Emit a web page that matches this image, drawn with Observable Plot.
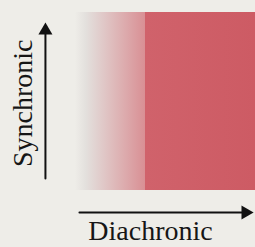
<!DOCTYPE html>
<html>
<head>
<meta charset="utf-8">
<script src="https://cdn.jsdelivr.net/npm/d3@7"></script>
<script src="https://cdn.jsdelivr.net/npm/@observablehq/plot@0.6"></script>
<style>
  html, body { margin: 0; padding: 0; background: #eeede8; overflow: hidden; }
</style>
</head>
<body>
<div id="chart"></div>
<script>
// Region of the diagram (abstract units)
const region = [{t0: 0, t1: 1, s0: 0, s1: 1}];
// Gradient of the region, left to right
const gradientOffsets = [0, 0.06, 0.39, 0.39, 1];
const gradientColors = ["#eeede8", "#e3e0dd", "#d98f94", "#d0626b", "#cd5b64"];
// Axis arrows
const axisNames = ["Synchronic", "Diachronic"];
const arrowX1 = [-0.167, 0.022];
const arrowY1 = [0.067, -0.124];
const arrowX2 = [-0.167, 0.989];
const arrowY2 = [0.944, -0.124];
// Axis labels
const labelX = [-0.29, 0.417];
const labelY = [0.49, -0.228];
const labelRotate = [-90, 0];

const arrows = axisNames.map((name, i) => ({name, x1: arrowX1[i], y1: arrowY1[i], x2: arrowX2[i], y2: arrowY2[i]}));
const labels = axisNames.map((name, i) => ({name, x: labelX[i], y: labelY[i], rotate: labelRotate[i]}));

const font = "Liberation Serif, Times New Roman, serif";

const plot = Plot.plot({
  width: 255,
  height: 247,
  marginLeft: 75,
  marginRight: 0,
  marginTop: 12,
  marginBottom: 57,
  x: {domain: [0, 1], axis: null},
  y: {domain: [0, 1], axis: null},
  style: {background: "#eeede8", overflow: "visible"},
  marks: [
    Plot.rect(region, {x1: "t0", x2: "t1", y1: "s0", y2: "s1", fill: "url(#regionGrad)"}),
    Plot.arrow(arrows, {x1: "x1", y1: "y1", x2: "x2", y2: "y2", headLength: 0, insetEnd: 9, stroke: "#111", strokeWidth: 2}),
    Plot.dot(arrows.filter(d => d.name === "Synchronic"), {x: "x2", y: "y2", symbol: "triangle", r: 5.2, fill: "#111", stroke: "none", dy: 8}),
    Plot.dot(arrows.filter(d => d.name === "Diachronic"), {x: "x2", y: "y2", symbol: "triangle", r: 5.2, fill: "#111", stroke: "none", dx: -8, rotate: 90}),
    Plot.text(labels, {x: "x", y: "y", text: "name", rotate: "rotate", fontSize: 28, fontFamily: font, fill: "#161616", textAnchor: "middle"})
  ]
});

const ns = "http://www.w3.org/2000/svg";
const defs = document.createElementNS(ns, "defs");
const grad = document.createElementNS(ns, "linearGradient");
grad.setAttribute("id", "regionGrad");
grad.setAttribute("x1", "0"); grad.setAttribute("x2", "1");
grad.setAttribute("y1", "0"); grad.setAttribute("y2", "0");
gradientOffsets.forEach((o, i) => {
  const s = document.createElementNS(ns, "stop");
  s.setAttribute("offset", o);
  s.setAttribute("stop-color", gradientColors[i]);
  grad.appendChild(s);
});
defs.appendChild(grad);
plot.insertBefore(defs, plot.firstChild);
document.getElementById("chart").appendChild(plot);
</script>
</body>
</html>
